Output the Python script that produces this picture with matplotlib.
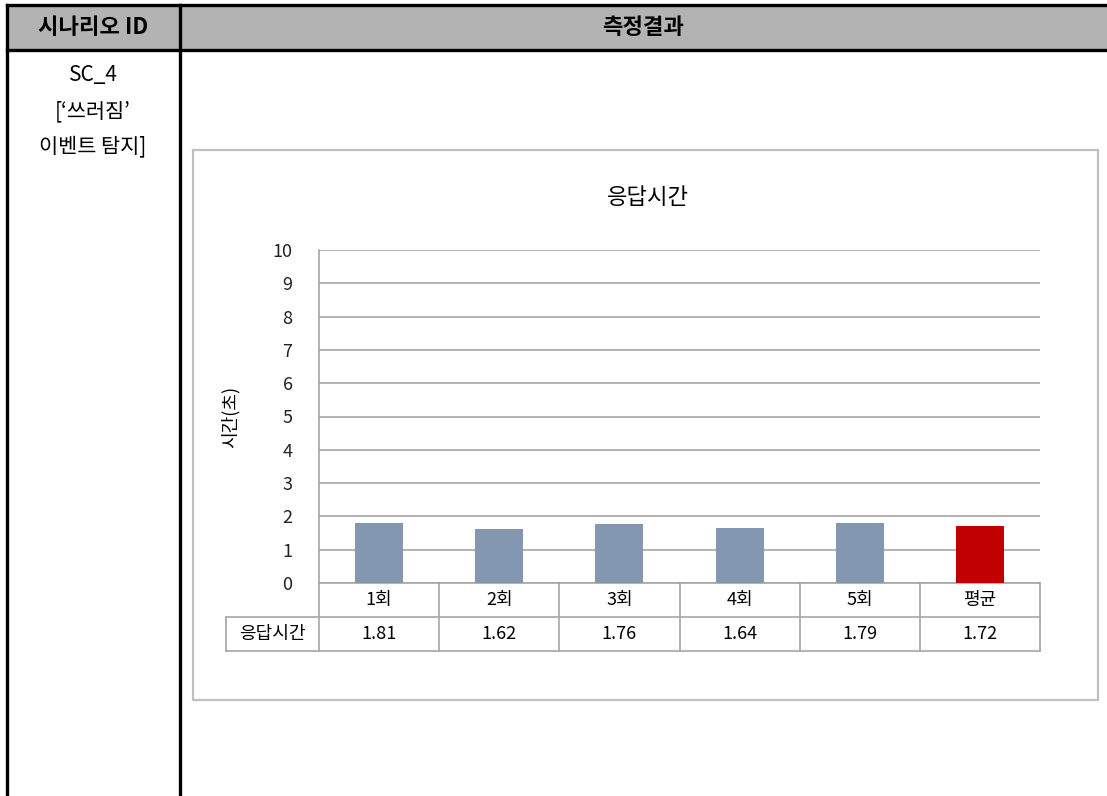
import matplotlib.pyplot as plt
import matplotlib.transforms as mtransforms
from matplotlib.patches import Rectangle

plt.rcParams['font.family'] = ['Noto Sans CJK KR', 'DejaVu Sans']

# 응답시간 측정 데이터
rounds = ['1회', '2회', '3회', '4회', '5회', '평균']
times = [1.81, 1.62, 1.76, 1.64, 1.79, 1.72]
bar_colors = ['#8497b0'] * 5 + ['#c00000']
yticks = list(range(0, 11))

W, H = 1107, 796
fig = plt.figure(figsize=(W / 100, H / 100), dpi=100)


def fx(x):
    return x / W


def fy(y):
    return 1 - y / H


# 바깥 표 (헤더 + 왼쪽 열)
fig.patches.append(Rectangle((fx(7), fy(50)), fx(W) - fx(7), fy(5) - fy(50),
                             transform=fig.transFigure, facecolor='#b3b3b3',
                             edgecolor='none', zorder=-2))
black = dict(color='black', lw=2.4, transform=fig.transFigure)
fig.add_artist(plt.Line2D([fx(7), fx(W)], [fy(5), fy(5)], **black))
fig.add_artist(plt.Line2D([fx(7), fx(W)], [fy(50), fy(50)], **black))
fig.add_artist(plt.Line2D([fx(7), fx(7)], [fy(5), fy(H)], **black))
fig.add_artist(plt.Line2D([fx(180), fx(180)], [fy(5), fy(H)], **black))

fig.text(fx(93), fy(28), '시나리오 ID', ha='center', va='center',
         fontsize=16, fontweight='bold')
fig.text(fx(643), fy(28), '측정결과', ha='center', va='center',
         fontsize=16, fontweight='bold')
for txt, y in [('SC_4', 75), ('[‘쓰러짐’', 111), ('이벤트 탐지]', 146)]:
    fig.text(fx(93), fy(y), txt, ha='center', va='center', fontsize=15)

# 차트 테두리와 제목
fig.patches.append(Rectangle((fx(193), fy(700)), fx(1098) - fx(193), fy(150) - fy(700),
                             transform=fig.transFigure, facecolor='none',
                             edgecolor='#bfbfbf', lw=1.6, zorder=-1))
fig.text(fx(648), fy(197), '응답시간', ha='center', va='center', fontsize=16)

grid_c = '#a6a6a6'
ax = fig.add_axes([fx(319), fy(583), fx(1040) - fx(319), fy(250) - fy(583)])
ax.set_facecolor('none')
x = range(len(rounds))
ax.bar(x, times, width=0.4, color=bar_colors, zorder=3)
ax.set_xlim(-0.5, len(rounds) - 0.5)
ax.set_ylim(0, 10)
ax.set_yticks(yticks)
ax.set_xticks([])
ax.yaxis.grid(True, color=grid_c, lw=1.2)
ax.set_axisbelow(True)
for s in ['top', 'right', 'bottom']:
    ax.spines[s].set_visible(False)
ax.spines['left'].set_color(grid_c)
ax.spines['left'].set_linewidth(1.2)
ax.tick_params(axis='y', length=0, pad=19, labelsize=13, labelcolor='#222222')
ax.set_ylabel('시간(초)', fontsize=13, labelpad=24)

# 데이터 표
trans = mtransforms.blended_transform_factory(ax.transData, ax.transAxes)
row_h = 34 / 333
n = len(rounds)
line = dict(color=grid_c, lw=1.2, transform=trans, clip_on=False)
label_left = -0.5 - 93 / 120
ax.plot([-0.5, n - 0.5], [0, 0], **line)
ax.plot([label_left, n - 0.5], [-row_h, -row_h], **line)
ax.plot([label_left, n - 0.5], [-2 * row_h, -2 * row_h], **line)
ax.plot([label_left, label_left], [-row_h, -2 * row_h], **line)
for i in range(n + 1):
    ax.plot([i - 0.5, i - 0.5], [0, -2 * row_h], **line)
for i, (r, t) in enumerate(zip(rounds, times)):
    ax.text(i, -row_h / 2, r, transform=trans, ha='center', va='center', fontsize=13)
    ax.text(i, -1.5 * row_h, f'{t:.2f}', transform=trans, ha='center', va='center',
            fontsize=13)
ax.text((label_left - 0.5) / 2, -1.5 * row_h, '응답시간', transform=trans,
        ha='center', va='center', fontsize=13)

fig.savefig('out.png', dpi=100)
